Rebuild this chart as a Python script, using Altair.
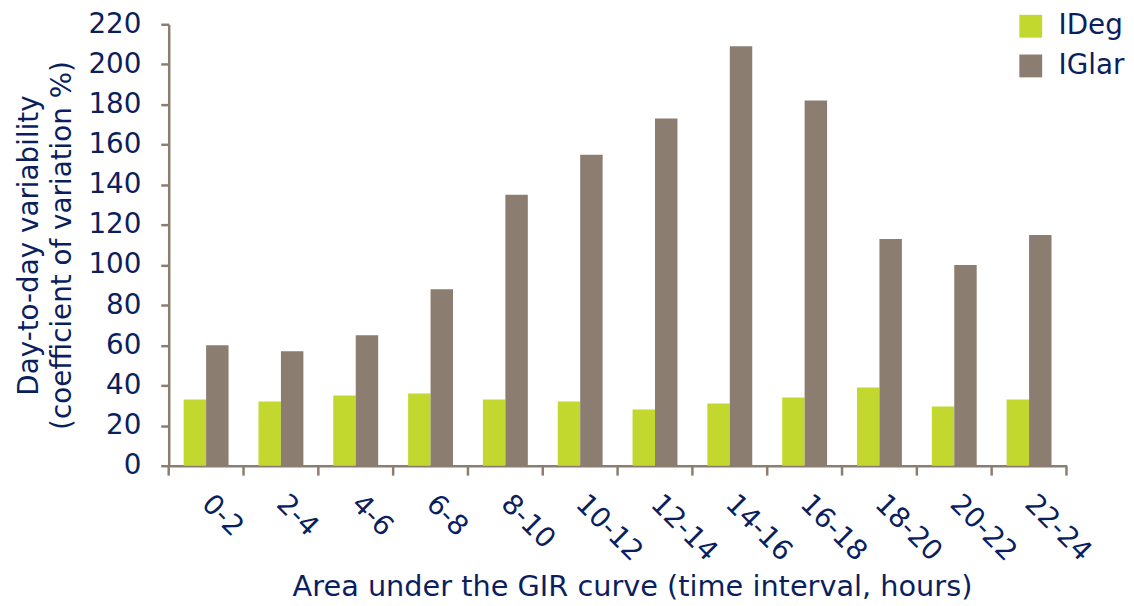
import altair as alt
import pandas as pd

categories = ["0-2", "2-4", "4-6", "6-8", "8-10", "10-12", "12-14", "14-16", "16-18", "18-20", "20-22", "22-24"]
ideg = [33, 32, 35, 36, 33, 32, 28, 31, 34, 39, 29.5, 33]
iglar = [60, 57, 65, 88, 135, 155, 173, 209, 182, 113, 100, 115]
series = ["IDeg", "IGlar"]
colors = ["#C3D82F", "#8B7D70"]
y_ticks = list(range(0, 221, 20))

rows = []
for c, a, b in zip(categories, ideg, iglar):
    rows.append({"interval": c, "series": "IDeg", "value": a})
    rows.append({"interval": c, "series": "IGlar", "value": b})
df = pd.DataFrame(rows)
cat_df = pd.DataFrame({"interval": categories})

W, H = 905, 445
FONT = "DejaVu Sans"
NAVY = "#0B1F5E"
AXC = "#8B7D70"
FS = 28

xscale = alt.Scale(paddingInner=0.4, paddingOuter=0.2)
xaxis = alt.Axis(title="Area under the GIR curve (time interval, hours)",
                 ticks=False, labelAngle=45, labelAlign="left",
                 labelBaseline="middle", labelPadding=34,
                 domainColor=AXC, domainWidth=2.5, grid=False,
                 titleFontSize=29, titleBaseline="alphabetic", titleY=131,
                 titleX=467, titleAlign="center")

bars = alt.Chart(df).mark_bar().encode(
    x=alt.X("interval:N", sort=categories, scale=xscale, axis=xaxis),
    xOffset=alt.XOffset("series:N", sort=series, scale=alt.Scale(paddingInner=0, paddingOuter=0)),
    y=alt.Y("value:Q", scale=alt.Scale(domain=[0, 220], nice=False),
            axis=alt.Axis(title=["Day-to-day variability", "(coefficient of variation %)"],
                          values=y_ticks, tickSize=8, tickWidth=2.5, tickColor=AXC,
                          domainColor=AXC, domainWidth=2.5, grid=False,
                          labelPadding=20, titlePadding=12, titleLineHeight=33)),
    color=alt.Color("series:N", sort=series,
                    scale=alt.Scale(domain=series, range=colors),
                    legend=alt.Legend(title=None, orient="none", legendX=855, legendY=-12,
                                      symbolType="square", symbolSize=530,
                                      symbolStrokeWidth=0, labelFontSize=FS,
                                      labelColor=NAVY, labelFont=FONT,
                                      rowPadding=12, labelOffset=14)),
)

bound_ticks = alt.Chart(cat_df).mark_rule(color=AXC, strokeWidth=2.5, xOffset=-W / 60).encode(
    x=alt.X("interval:N", sort=categories, bandPosition=0, scale=xscale, axis=xaxis),
    y=alt.value(H), y2=alt.value(H + 10)
)

end_tick = alt.Chart(pd.DataFrame({"k": [0]})).mark_rule(color=AXC, strokeWidth=2.5).encode(
    x=alt.value(W), y=alt.value(H), y2=alt.value(H + 10)
)

chart = alt.layer(bars, bound_ticks, end_tick).properties(
    width=W, height=H, background="white",
    autosize=alt.AutoSizeParams(type="none"),
    padding={"left": 162, "top": 14, "right": 60, "bottom": 137},
).configure_view(
    stroke=None
).configure_axis(
    labelFont=FONT, titleFont=FONT, labelFontSize=FS, titleFontSize=FS,
    labelColor=NAVY, titleColor=NAVY, titleFontWeight="normal"
)

chart.save("out.html", embed_options={"renderer": "svg", "actions": False})
